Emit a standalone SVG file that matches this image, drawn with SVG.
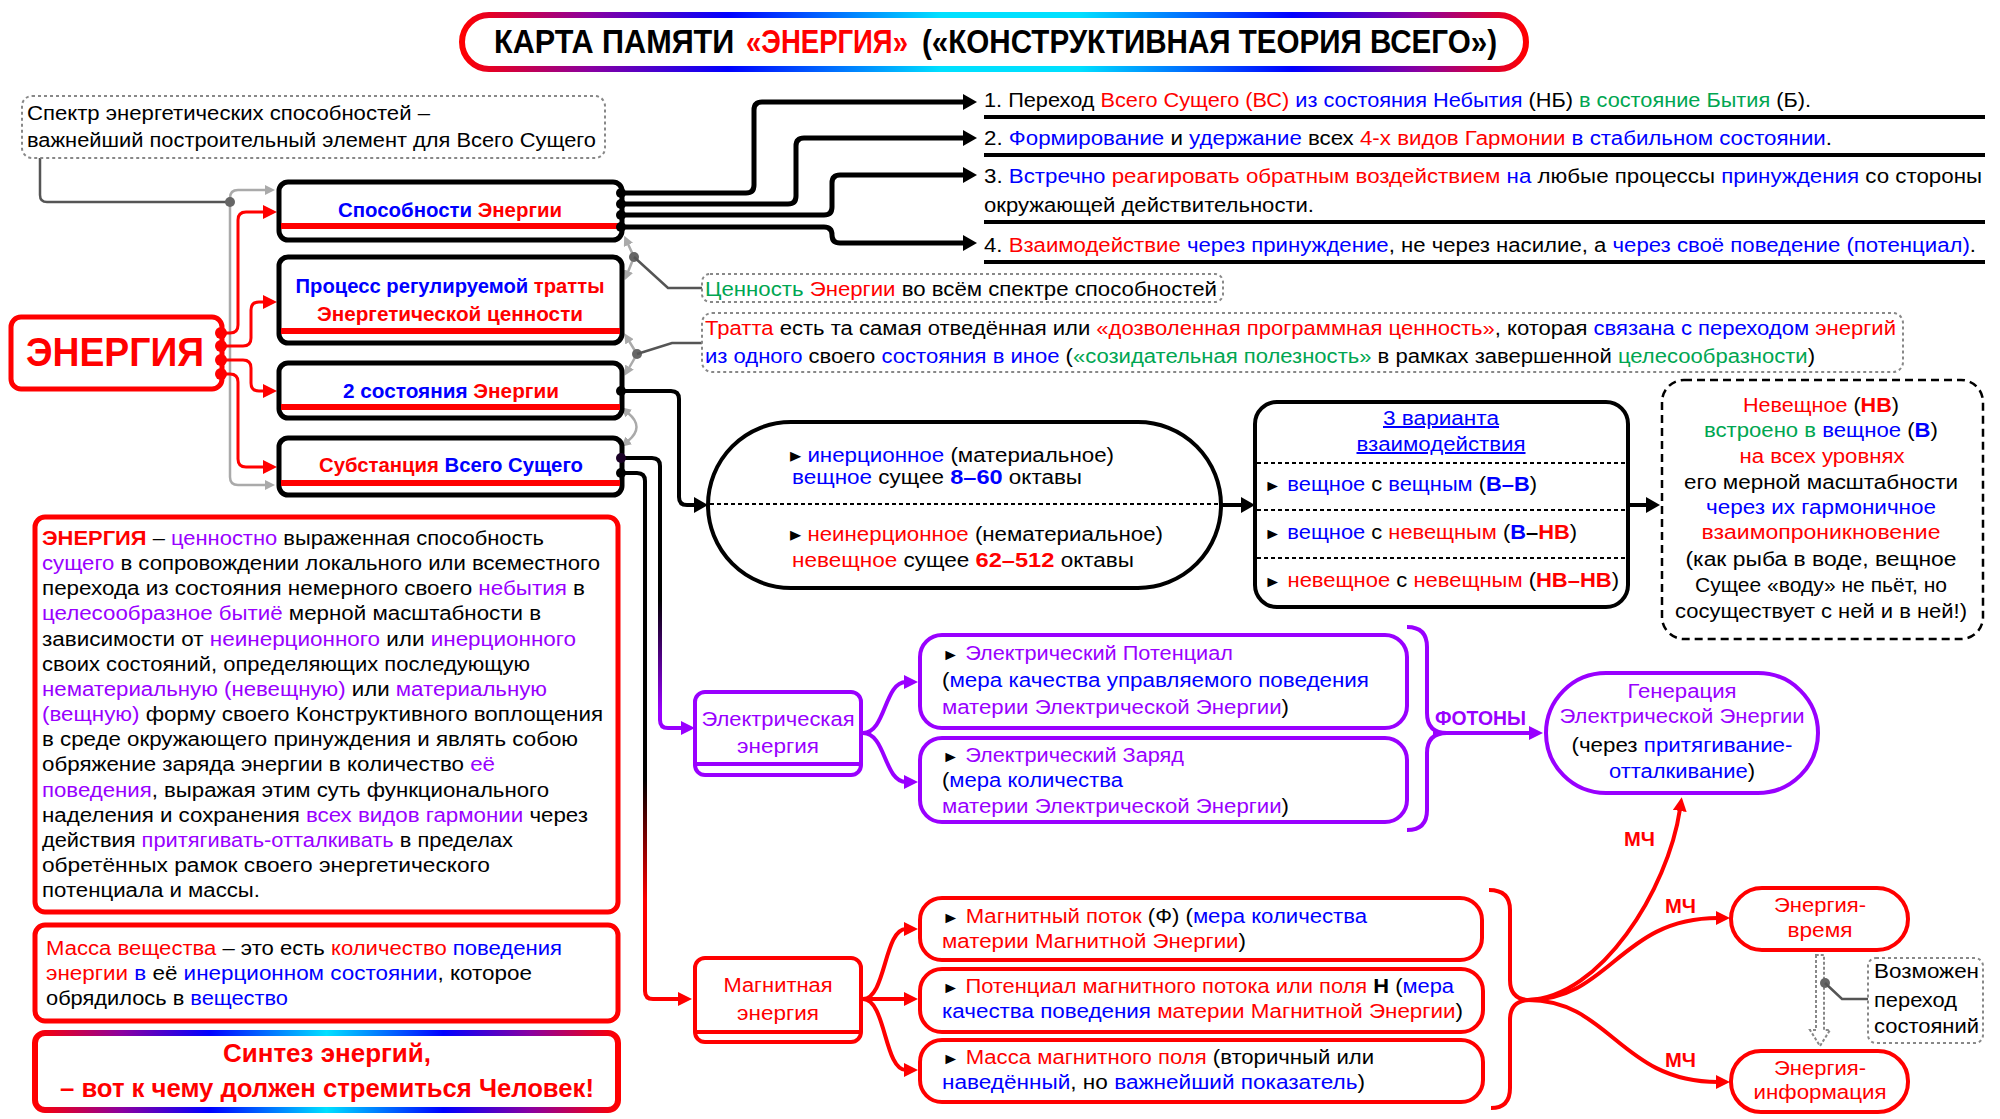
<svg xmlns="http://www.w3.org/2000/svg" width="2000" height="1119" viewBox="0 0 2000 1119">
<defs>
<linearGradient id="gT" x1="462" y1="0" x2="1526" y2="0" gradientUnits="userSpaceOnUse">
<stop offset="0" stop-color="#ff0000"/><stop offset="0.12" stop-color="#8a00a0"/><stop offset="0.25" stop-color="#0000ff"/><stop offset="0.45" stop-color="#00e0ff"/><stop offset="0.58" stop-color="#00e0ff"/><stop offset="0.78" stop-color="#0000ff"/><stop offset="0.9" stop-color="#8a00a0"/><stop offset="1" stop-color="#ff0000"/>
</linearGradient>
<linearGradient id="gS" x1="35" y1="0" x2="618" y2="0" gradientUnits="userSpaceOnUse">
<stop offset="0" stop-color="#ff0000"/><stop offset="0.15" stop-color="#8a00a0"/><stop offset="0.3" stop-color="#0000ff"/><stop offset="0.5" stop-color="#00e0ff"/><stop offset="0.7" stop-color="#0000ff"/><stop offset="0.85" stop-color="#8a00a0"/><stop offset="1" stop-color="#ff0000"/>
</linearGradient>
<linearGradient id="gA" x1="0" y1="600" x2="0" y2="710" gradientUnits="userSpaceOnUse"><stop offset="0" stop-color="#000"/><stop offset="1" stop-color="#9900ff"/></linearGradient>
<linearGradient id="gB" x1="0" y1="780" x2="0" y2="900" gradientUnits="userSpaceOnUse"><stop offset="0" stop-color="#000"/><stop offset="1" stop-color="#ff0000"/></linearGradient>
<marker id="mK" viewBox="0 0 14 16" refX="2" refY="8" markerWidth="14" markerHeight="16" orient="auto" markerUnits="userSpaceOnUse"><path d="M0,0 L14,8 L0,16 z" fill="#000"/></marker>
<marker id="mR" viewBox="0 0 14 14" refX="2" refY="7" markerWidth="14" markerHeight="14" orient="auto" markerUnits="userSpaceOnUse"><path d="M0,0 L14,7 L0,14 z" fill="#ff0000"/></marker>
<marker id="mP" viewBox="0 0 14 14" refX="2" refY="7" markerWidth="14" markerHeight="14" orient="auto" markerUnits="userSpaceOnUse"><path d="M0,0 L14,7 L0,14 z" fill="#9900ff"/></marker>
<marker id="mG" viewBox="0 0 10 10" refX="1" refY="5" markerWidth="10" markerHeight="10" orient="auto-start-reverse" markerUnits="userSpaceOnUse"><path d="M0,0 L10,5 L0,10 z" fill="#aaaaaa"/></marker>
</defs>
<style>
.t{font-family:"Liberation Sans",Arial,"DejaVu Sans",sans-serif;font-size:20px;fill:#000}
.c{text-anchor:middle}
.b{font-weight:bold}
.r{fill:#ff0000}.bl{fill:#0000ff}.g{fill:#00a651}.p{fill:#9900ff}.k{fill:#000}
.u{text-decoration:underline}
.tri{font-size:16px}
.big{font-size:21px}
.ttl{font-size:34px;font-weight:bold}
.box{fill:#fff;stroke:#000;stroke-width:5}
.bar{fill:#ff0000}
.note{fill:#fff;stroke:#888;stroke-width:2;stroke-dasharray:3 3}
.rbox{fill:#fff;stroke:#ff0000;stroke-width:5}
.pbox{fill:#fff;stroke:#9900ff;stroke-width:4}
.rb4{fill:#fff;stroke:#ff0000;stroke-width:4}
.lk{fill:none;stroke:#000;stroke-width:5}
.lr{fill:none;stroke:#ff0000;stroke-width:3}
.lr4{fill:none;stroke:#ff0000;stroke-width:4}
.lp{fill:none;stroke:#9900ff;stroke-width:4}
.lg{fill:none;stroke:#aaaaaa;stroke-width:2.5}
.ld{fill:none;stroke:#555;stroke-width:2.5}
.dash{stroke:#000;stroke-width:2;stroke-dasharray:4 3}
</style>
<rect width="2000" height="1119" fill="#fff"/>

<g id="title">
<rect x="462" y="15" width="1064" height="54" rx="27" fill="#fff" stroke="url(#gT)" stroke-width="6"/>
<text class="t ttl" transform="translate(494,53) scale(0.9,1)">КАРТА ПАМЯТИ</text>
<text class="t ttl r" transform="translate(746,53) scale(0.81,1)">«ЭНЕРГИЯ»</text>
<text class="t ttl" transform="translate(922,53) scale(0.87,1)">(«КОНСТРУКТИВНАЯ ТЕОРИЯ ВСЕГО»)</text>
</g>

<g id="connectors">
<path class="ld" d="M40,158 V195 Q40,202 47,202 H230"/>
<path class="lg" d="M230,202 V198 Q230,190 238,190 H266" marker-end="url(#mG)"/>
<path class="lg" d="M230,202 V477 Q230,485 238,485 H266" marker-end="url(#mG)"/>
<circle cx="230" cy="202" r="5" fill="#666"/>
<path class="lr" d="M222,333 H230 Q238,333 238,325 V220 Q238,212 246,212 H265" marker-end="url(#mR)"/>
<path class="lr" d="M222,346 H243 Q251,346 251,338 V310 Q251,302 259,302 H265" marker-end="url(#mR)"/>
<path class="lr" d="M222,360 H243 Q251,360 251,368 V383 Q251,391 259,391 H265" marker-end="url(#mR)"/>
<path class="lr" d="M222,374 H230 Q238,374 238,382 V459 Q238,467 246,467 H265" marker-end="url(#mR)"/>
<path class="lk" d="M622,193 H746 Q754,193 754,185 V110 Q754,102 762,102 H965" marker-end="url(#mK)"/>
<path class="lk" d="M622,204 H788 Q796,204 796,196 V146 Q796,138 804,138 H965" marker-end="url(#mK)"/>
<path class="lk" d="M622,215 H824 Q832,215 832,207 V183 Q832,175 840,175 H965" marker-end="url(#mK)"/>
<path class="lk" d="M622,227 H824 Q832,227 832,235 Q832,243 840,243 H965" marker-end="url(#mK)"/>
<path class="lg" d="M628,244 L634,257 L628,272" marker-start="url(#mG)" marker-end="url(#mG)"/>
<circle cx="634" cy="257" r="5" fill="#666"/>
<path class="ld" d="M634,257 L668,288 H702"/>
<path class="lg" d="M629,341 L637,354 L629,368" marker-start="url(#mG)" marker-end="url(#mG)"/>
<circle cx="637" cy="354" r="5" fill="#666"/>
<path class="ld" d="M637,354 L672,343 H702"/>
<path class="lg" d="M628,413 Q645,427 628,441" marker-start="url(#mG)" marker-end="url(#mG)"/>
<path fill="none" stroke="#000" stroke-width="4" d="M621,391 H671 Q679,391 679,399 V497 Q679,505 687,505 H696" marker-end="url(#mK)"/>
<path fill="none" stroke="#000" stroke-width="4" d="M1221,505 H1243" marker-end="url(#mK)"/>
<path fill="none" stroke="#000" stroke-width="4" d="M1628,505 H1648" marker-end="url(#mK)"/>
<path fill="none" stroke="url(#gA)" stroke-width="4" d="M620,458 H652 Q660,458 660,466 V720 Q660,728 668,728 H683" marker-end="url(#mP)"/>
<path fill="none" stroke="url(#gB)" stroke-width="4" d="M620,473 H637 Q645,473 645,481 V991 Q645,999 653,999 H680" marker-end="url(#mR)"/>
<path class="lp" d="M863,733 C886,733 884,682 906,682" marker-end="url(#mP)"/>
<path class="lp" d="M863,733 C886,733 884,782 906,782" marker-end="url(#mP)"/>
<path class="lr4" d="M863,999 C886,999 884,929 906,929" marker-end="url(#mR)"/>
<path class="lr4" d="M863,999 H906" marker-end="url(#mR)"/>
<path class="lr4" d="M863,999 C886,999 884,1070 906,1070" marker-end="url(#mR)"/>
<path class="lp" d="M1407,627 Q1427,627 1427,647 V713 Q1427,733 1447,733 M1447,733 Q1427,733 1427,753 V810 Q1427,830 1407,830"/>
<path class="lp" d="M1433,733 H1531" marker-end="url(#mP)"/>
<text class="t b p" x="1435" y="725" textLength="91" lengthAdjust="spacingAndGlyphs">ФОТОНЫ</text>
<path class="lr4" d="M1489,890 Q1510,890 1510,910 V980 Q1510,1000 1530,1000 Q1510,1000 1510,1020 V1088 Q1510,1108 1491,1108"/>
<path class="lr4" d="M1528,1000 C1600,998 1668,890 1680,809" marker-end="url(#mR)"/>
<path class="lr4" d="M1528,1000 C1610,1000 1620,918 1718,918" marker-end="url(#mR)"/>
<path class="lr4" d="M1528,1000 C1610,1000 1620,1082 1718,1082" marker-end="url(#mR)"/>
<text class="t b r" x="1624" y="846" textLength="31" lengthAdjust="spacingAndGlyphs">МЧ</text>
<text class="t b r" x="1665" y="913" textLength="31" lengthAdjust="spacingAndGlyphs">МЧ</text>
<text class="t b r" x="1665" y="1067" textLength="31" lengthAdjust="spacingAndGlyphs">МЧ</text>
<path d="M1816,955 V1030 H1810 L1820,1046 L1830,1030 H1824 V955 Z" fill="#fff" stroke="#888" stroke-width="2" stroke-dasharray="3 2"/>
<circle cx="1825" cy="983" r="5" fill="#666"/>
<path class="ld" d="M1825,983 L1842,999 H1868"/>
</g>

<g id="n-spectrum">
<rect class="note" x="22" y="96" width="583" height="62" rx="10"/>
<text class="t" x="27" y="120" textLength="403" lengthAdjust="spacingAndGlyphs">Спектр энергетических способностей –</text>
<text class="t" x="27" y="147" textLength="569" lengthAdjust="spacingAndGlyphs">важнейший построительный элемент для Всего Сущего</text>
</g>

<g id="n-energy">
<rect class="rbox" x="11" y="317" width="211" height="72" rx="10" stroke-width="6"/>
<circle cx="221" cy="333" r="6" fill="#ff0000"/><circle cx="221" cy="346" r="6" fill="#ff0000"/><circle cx="221" cy="360" r="6" fill="#ff0000"/><circle cx="221" cy="374" r="6" fill="#ff0000"/>
<text class="t b r" x="26" y="366" style="font-size:41px" textLength="178" lengthAdjust="spacingAndGlyphs">ЭНЕРГИЯ</text>
</g>

<g id="n-abilities">
<rect class="box" x="279" y="182" width="343" height="58" rx="9"/>
<rect class="bar" x="281" y="223" width="339" height="6"/>
<circle cx="621" cy="193" r="5"/><circle cx="621" cy="204" r="5"/><circle cx="621" cy="215" r="5"/><circle cx="621" cy="227" r="5"/>
<text class="t b c" x="450" y="217" textLength="224" lengthAdjust="spacingAndGlyphs"><tspan class="bl">Способности</tspan><tspan class="r"> Энергии</tspan></text>
</g>

<g id="n-process">
<rect class="box" x="279" y="257" width="343" height="86" rx="9"/>
<rect class="bar" x="281" y="328" width="339" height="6"/>
<text class="t b c" x="450" y="293" textLength="309" lengthAdjust="spacingAndGlyphs"><tspan class="bl">Процесс регулируемой</tspan><tspan class="r"> тратты</tspan></text>
<text class="t b c r" x="450" y="321" textLength="266" lengthAdjust="spacingAndGlyphs">Энергетической ценности</text>
</g>

<g id="n-states">
<rect class="box" x="279" y="363" width="343" height="55" rx="9"/>
<rect class="bar" x="281" y="404" width="339" height="6"/>
<circle cx="621" cy="391" r="5"/>
<text class="t b c" x="451" y="398" textLength="216" lengthAdjust="spacingAndGlyphs"><tspan class="bl">2 состояния</tspan><tspan class="r"> Энергии</tspan></text>
</g>

<g id="n-substance">
<rect class="box" x="279" y="438" width="343" height="57" rx="9"/>
<rect class="bar" x="281" y="480" width="339" height="6"/>
<circle cx="621" cy="458" r="5" fill="#1a0026"/><circle cx="621" cy="473" r="5"/>
<text class="t b c" x="451" y="472" textLength="264" lengthAdjust="spacingAndGlyphs"><tspan class="r">Субстанция</tspan><tspan class="bl"> Всего Сущего</tspan></text>
</g>

<g id="n-items">
<text class="t" x="984" y="107" textLength="827" lengthAdjust="spacingAndGlyphs">1. Переход <tspan class="r">Всего Сущего (ВС)</tspan><tspan class="bl"> из состояния Небытия</tspan> (НБ) <tspan class="g">в состояние Бытия</tspan> (Б).</text>
<text class="t" x="984" y="145" textLength="848" lengthAdjust="spacingAndGlyphs">2. <tspan class="bl">Формирование</tspan> и <tspan class="bl">удержание</tspan> всех <tspan class="r">4-х видов Гармонии</tspan><tspan class="bl"> в стабильном состоянии</tspan>.</text>
<text class="t" x="984" y="183" textLength="998" lengthAdjust="spacingAndGlyphs">3. <tspan class="bl">Встречно</tspan><tspan class="r"> реагировать обратным воздействием</tspan><tspan class="bl"> на</tspan> любые процессы <tspan class="bl">принуждения</tspan> со стороны</text>
<text class="t" x="984" y="212" textLength="330" lengthAdjust="spacingAndGlyphs">окружающей действительности.</text>
<text class="t" x="984" y="252" textLength="992" lengthAdjust="spacingAndGlyphs">4. <tspan class="r">Взаимодействие</tspan><tspan class="bl"> через принуждение</tspan>, не через насилие, а <tspan class="bl">через своё поведение (потенциал)</tspan>.</text>
<rect x="984" y="115" width="1001" height="4"/>
<rect x="984" y="153" width="1001" height="4"/>
<rect x="984" y="220" width="1001" height="4"/>
<rect x="984" y="260" width="1001" height="4"/>
</g>

<g id="n-value">
<rect class="note" x="702" y="274" width="521" height="28" rx="8"/>
<text class="t" x="705" y="296" textLength="512" lengthAdjust="spacingAndGlyphs"><tspan class="g">Ценность</tspan><tspan class="r"> Энергии</tspan> во всём спектре способностей</text>
</g>

<g id="n-tratta">
<rect class="note" x="702" y="313" width="1201" height="59" rx="10"/>
<text class="t" x="705" y="335" textLength="1191" lengthAdjust="spacingAndGlyphs"><tspan class="r">Тратта</tspan> есть та самая отведённая или <tspan class="r">«дозволенная программная ценность»</tspan>, которая <tspan class="bl">связана с переходом</tspan><tspan class="r"> энергий</tspan></text>
<text class="t" x="705" y="363" textLength="1110" lengthAdjust="spacingAndGlyphs"><tspan class="bl">из одного</tspan> своего <tspan class="bl">состояния в иное</tspan> (<tspan class="g">«созидательная полезность»</tspan> в рамках завершенной <tspan class="g">целесообразности</tspan>)</text>
</g>

<g id="n-inertial">
<rect x="708" y="422" width="513" height="166" rx="83" fill="#fff" stroke="#000" stroke-width="4"/>
<line class="dash" x1="710" y1="504" x2="1219" y2="504"/>
<text class="t" x="790" y="462" textLength="324" lengthAdjust="spacingAndGlyphs">▸ <tspan class="bl">инерционное</tspan> (материальное)</text>
<text class="t" x="792" y="484" textLength="290" lengthAdjust="spacingAndGlyphs"><tspan class="bl">вещное</tspan> сущее <tspan class="bl b big">8–60</tspan> октавы</text>
<text class="t" x="790" y="541" textLength="373" lengthAdjust="spacingAndGlyphs">▸ <tspan class="r">неинерционное</tspan> (нематериальное)</text>
<text class="t" x="792" y="567" textLength="342" lengthAdjust="spacingAndGlyphs"><tspan class="r">невещное</tspan> сущее <tspan class="r b big">62–512</tspan> октавы</text>
</g>

<g id="n-variants">
<rect x="1255" y="402" width="373" height="205" rx="22" fill="#fff" stroke="#000" stroke-width="4"/>
<line class="dash" x1="1257" y1="463" x2="1626" y2="463"/>
<line class="dash" x1="1257" y1="510" x2="1626" y2="510"/>
<line class="dash" x1="1257" y1="558" x2="1626" y2="558"/>
<text class="t c bl u" x="1441" y="425" textLength="116" lengthAdjust="spacingAndGlyphs">3 варианта</text>
<text class="t c bl u" x="1441" y="451" textLength="169" lengthAdjust="spacingAndGlyphs">взаимодействия</text>
<text class="t" x="1264" y="491" textLength="273" lengthAdjust="spacingAndGlyphs"><tspan class="tri">►</tspan> <tspan class="bl">вещное</tspan> с <tspan class="bl">вещным</tspan> (<tspan class="bl b">В–В</tspan>)</text>
<text class="t" x="1264" y="539" textLength="313" lengthAdjust="spacingAndGlyphs"><tspan class="tri">►</tspan> <tspan class="bl">вещное</tspan> с <tspan class="r">невещным</tspan> (<tspan class="bl b">В</tspan><tspan class="b">–</tspan><tspan class="r b">НВ</tspan>)</text>
<text class="t" x="1264" y="587" textLength="355" lengthAdjust="spacingAndGlyphs"><tspan class="tri">►</tspan> <tspan class="r">невещное</tspan> с <tspan class="r">невещным</tspan> (<tspan class="r b">НВ–НВ</tspan>)</text>
</g>

<g id="n-nonmaterial">
<rect x="1662" y="380" width="321" height="259" rx="22" fill="#fff" stroke="#000" stroke-width="2.5" stroke-dasharray="8 5"/>
<text class="t c" x="1821" y="412" textLength="156" lengthAdjust="spacingAndGlyphs"><tspan class="r">Невещное</tspan> (<tspan class="r b">НВ</tspan>)</text>
<text class="t c" x="1821" y="437" textLength="234" lengthAdjust="spacingAndGlyphs"><tspan class="g">встроено в</tspan><tspan class="bl"> вещное</tspan> (<tspan class="bl b">В</tspan>)</text>
<text class="t c r" x="1822" y="463" textLength="165" lengthAdjust="spacingAndGlyphs">на всех уровнях</text>
<text class="t c" x="1821" y="489" textLength="274" lengthAdjust="spacingAndGlyphs">его мерной масштабности</text>
<text class="t c bl" x="1821" y="514" textLength="230" lengthAdjust="spacingAndGlyphs">через их гармоничное</text>
<text class="t c r" x="1821" y="539" textLength="239" lengthAdjust="spacingAndGlyphs">взаимопроникновение</text>
<text class="t c" x="1821" y="566" textLength="271" lengthAdjust="spacingAndGlyphs">(как рыба в воде, вещное</text>
<text class="t c" x="1821" y="592" textLength="252" lengthAdjust="spacingAndGlyphs">Сущее «воду» не пьёт, но</text>
<text class="t c" x="1821" y="618" textLength="292" lengthAdjust="spacingAndGlyphs">сосуществует с ней и в ней!)</text>
</g>

<g id="n-definition">
<rect class="rbox" x="35" y="517" width="583" height="395" rx="10"/>
<text class="t" x="42" y="545" textLength="502" lengthAdjust="spacingAndGlyphs"><tspan class="r b">ЭНЕРГИЯ</tspan> – <tspan class="p">ценностно</tspan> выраженная способность</text>
<text class="t" x="42" y="570" textLength="558" lengthAdjust="spacingAndGlyphs"><tspan class="p">сущего</tspan> в сопровождении локального или всеместного</text>
<text class="t" x="42" y="595" textLength="543" lengthAdjust="spacingAndGlyphs">перехода из состояния немерного своего <tspan class="p">небытия</tspan> в</text>
<text class="t" x="42" y="620" textLength="499" lengthAdjust="spacingAndGlyphs"><tspan class="p">целесообразное бытиё</tspan> мерной масштабности в</text>
<text class="t" x="42" y="646" textLength="534" lengthAdjust="spacingAndGlyphs">зависимости от <tspan class="p">неинерционного</tspan> или <tspan class="p">инерционного</tspan></text>
<text class="t" x="42" y="671" textLength="488" lengthAdjust="spacingAndGlyphs">своих состояний, определяющих последующую</text>
<text class="t" x="42" y="696" textLength="505" lengthAdjust="spacingAndGlyphs"><tspan class="p">нематериальную (невещную)</tspan> или <tspan class="p">материальную</tspan></text>
<text class="t" x="42" y="721" textLength="561" lengthAdjust="spacingAndGlyphs"><tspan class="p">(вещную)</tspan> форму своего Конструктивного воплощения</text>
<text class="t" x="42" y="746" textLength="536" lengthAdjust="spacingAndGlyphs">в среде окружающего принуждения и являть собою</text>
<text class="t" x="42" y="771" textLength="453" lengthAdjust="spacingAndGlyphs">обряжение заряда энергии в количество <tspan class="p">её</tspan></text>
<text class="t" x="42" y="797" textLength="507" lengthAdjust="spacingAndGlyphs"><tspan class="p">поведения</tspan>, выражая этим суть функционального</text>
<text class="t" x="42" y="822" textLength="546" lengthAdjust="spacingAndGlyphs">наделения и сохранения <tspan class="p">всех видов гармонии</tspan> через</text>
<text class="t" x="42" y="847" textLength="471" lengthAdjust="spacingAndGlyphs">действия <tspan class="p">притягивать-отталкивать</tspan> в пределах</text>
<text class="t" x="42" y="872" textLength="448" lengthAdjust="spacingAndGlyphs">обретённых рамок своего энергетического</text>
<text class="t" x="42" y="897" textLength="218" lengthAdjust="spacingAndGlyphs">потенциала и массы.</text>
</g>

<g id="n-mass">
<rect class="rbox" x="35" y="925" width="583" height="96" rx="10"/>
<text class="t" x="46" y="955" textLength="516" lengthAdjust="spacingAndGlyphs"><tspan class="r">Масса вещества</tspan> – это есть <tspan class="r">количество</tspan><tspan class="bl"> поведения</tspan></text>
<text class="t" x="46" y="980" textLength="486" lengthAdjust="spacingAndGlyphs"><tspan class="r">энергии</tspan><tspan class="bl"> в</tspan> её <tspan class="bl">инерционном состоянии</tspan>, которое</text>
<text class="t" x="46" y="1005" textLength="242" lengthAdjust="spacingAndGlyphs">обрядилось в <tspan class="bl">вещество</tspan></text>
</g>

<g id="n-synthesis">
<rect x="35" y="1033" width="583" height="77" rx="10" fill="#fff" stroke="url(#gS)" stroke-width="6"/>
<text class="t b c r" x="327" y="1062" style="font-size:25px" textLength="208" lengthAdjust="spacingAndGlyphs">Синтез энергий,</text>
<text class="t b c r" x="327" y="1097" style="font-size:25px" textLength="534" lengthAdjust="spacingAndGlyphs">– вот к чему должен стремиться Человек!</text>
</g>

<g id="n-electric">
<rect class="pbox" x="695" y="692" width="166" height="83" rx="10"/>
<line x1="697" y1="764" x2="859" y2="764" stroke="#9900ff" stroke-width="4"/>
<text class="t c p" x="778" y="726" textLength="153" lengthAdjust="spacingAndGlyphs">Электрическая</text>
<text class="t c p" x="778" y="753" textLength="82" lengthAdjust="spacingAndGlyphs">энергия</text>
</g>

<g id="n-el-potential">
<rect class="pbox" x="920" y="635" width="487" height="93" rx="22"/>
<text class="t" x="942" y="660" textLength="291" lengthAdjust="spacingAndGlyphs"><tspan class="tri">►</tspan> <tspan class="p">Электрический Потенциал</tspan></text>
<text class="t" x="942" y="687" textLength="427" lengthAdjust="spacingAndGlyphs">(<tspan class="bl">мера качества управляемого поведения</tspan></text>
<text class="t" x="942" y="714" textLength="347" lengthAdjust="spacingAndGlyphs"><tspan class="p">материи Электрической Энергии</tspan>)</text>
</g>

<g id="n-el-charge">
<rect class="pbox" x="920" y="738" width="487" height="84" rx="22"/>
<text class="t" x="942" y="762" textLength="242" lengthAdjust="spacingAndGlyphs"><tspan class="tri">►</tspan> <tspan class="p">Электрический Заряд</tspan></text>
<text class="t" x="942" y="787" textLength="181" lengthAdjust="spacingAndGlyphs">(<tspan class="bl">мера количества</tspan></text>
<text class="t" x="942" y="813" textLength="347" lengthAdjust="spacingAndGlyphs"><tspan class="p">материи Электрической Энергии</tspan>)</text>
</g>

<g id="n-generation">
<rect class="pbox" x="1546" y="673" width="272" height="120" rx="60"/>
<text class="t c p" x="1682" y="698" textLength="109" lengthAdjust="spacingAndGlyphs">Генерация</text>
<text class="t c p" x="1682" y="723" textLength="245" lengthAdjust="spacingAndGlyphs">Электрической Энергии</text>
<text class="t c" x="1682" y="752" textLength="221" lengthAdjust="spacingAndGlyphs">(через <tspan class="bl">притягивание-</tspan></text>
<text class="t c" x="1682" y="778" textLength="146" lengthAdjust="spacingAndGlyphs"><tspan class="bl">отталкивание</tspan>)</text>
</g>

<g id="n-magnetic">
<rect class="rb4" x="695" y="958" width="166" height="84" rx="10"/>
<line x1="697" y1="1032" x2="859" y2="1032" stroke="#ff0000" stroke-width="4"/>
<text class="t c r" x="778" y="992" textLength="109" lengthAdjust="spacingAndGlyphs">Магнитная</text>
<text class="t c r" x="778" y="1020" textLength="82" lengthAdjust="spacingAndGlyphs">энергия</text>
</g>

<g id="n-mag-flux">
<rect class="rb4" x="920" y="898" width="562" height="62" rx="22"/>
<text class="t" x="942" y="923" textLength="425" lengthAdjust="spacingAndGlyphs"><tspan class="tri">►</tspan> <tspan class="r">Магнитный поток</tspan> (Ф) (<tspan class="bl">мера количества</tspan></text>
<text class="t" x="942" y="948" textLength="304" lengthAdjust="spacingAndGlyphs"><tspan class="r">материи Магнитной Энергии</tspan>)</text>
</g>

<g id="n-mag-potential">
<rect class="rb4" x="920" y="969" width="563" height="63" rx="22"/>
<text class="t" x="942" y="993" textLength="512" lengthAdjust="spacingAndGlyphs"><tspan class="tri">►</tspan> <tspan class="r">Потенциал магнитного потока или поля</tspan> <tspan class="b">Н</tspan> (<tspan class="bl">мера</tspan></text>
<text class="t" x="942" y="1018" textLength="521" lengthAdjust="spacingAndGlyphs"><tspan class="bl">качества поведения</tspan><tspan class="r"> материи Магнитной Энергии</tspan>)</text>
</g>

<g id="n-mag-mass">
<rect class="rb4" x="920" y="1040" width="563" height="62" rx="22"/>
<text class="t" x="942" y="1064" textLength="432" lengthAdjust="spacingAndGlyphs"><tspan class="tri">►</tspan> <tspan class="r">Масса магнитного поля</tspan> (вторичный или</text>
<text class="t" x="942" y="1089" textLength="423" lengthAdjust="spacingAndGlyphs"><tspan class="bl">наведённый</tspan>, но <tspan class="bl">важнейший показатель</tspan>)</text>
</g>

<g id="n-energy-time">
<rect class="rb4" x="1731" y="888" width="177" height="62" rx="31"/>
<text class="t c r" x="1820" y="912" textLength="92" lengthAdjust="spacingAndGlyphs">Энергия-</text>
<text class="t c r" x="1820" y="937" textLength="65" lengthAdjust="spacingAndGlyphs">время</text>
</g>

<g id="n-energy-info">
<rect class="rb4" x="1731" y="1051" width="177" height="61" rx="30"/>
<text class="t c r" x="1820" y="1075" textLength="92" lengthAdjust="spacingAndGlyphs">Энергия-</text>
<text class="t c r" x="1820" y="1099" textLength="133" lengthAdjust="spacingAndGlyphs">информация</text>
</g>

<g id="n-transition">
<rect class="note" x="1868" y="958" width="115" height="85" rx="8"/>
<text class="t" x="1874" y="978" textLength="105" lengthAdjust="spacingAndGlyphs">Возможен</text>
<text class="t" x="1874" y="1007" textLength="83" lengthAdjust="spacingAndGlyphs">переход</text>
<text class="t" x="1874" y="1033" textLength="105" lengthAdjust="spacingAndGlyphs">состояний</text>
</g>
</svg>
